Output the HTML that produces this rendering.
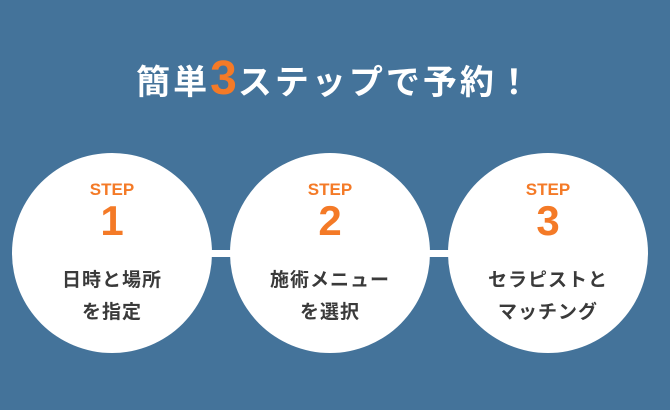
<!DOCTYPE html>
<html><head><meta charset="utf-8"><style>
body{margin:0;width:670px;height:410px;background:#44739a;position:relative;overflow:hidden;font-family:"Liberation Sans","Noto Sans CJK JP",sans-serif}
.t{position:absolute;left:0;width:670px;top:52px;text-align:center;color:#fff;font-size:34px;font-weight:bold;letter-spacing:3px;line-height:54px}
.t b{color:#f47a27;font-size:48px;font-family:"Liberation Sans",sans-serif;letter-spacing:1px}
.bar{position:absolute;top:250px;left:200px;width:260px;height:7px;background:#fff}
.c{position:absolute;top:153px;width:200px;height:200px;border-radius:50%;background:#fff;text-align:center}
.s{position:absolute;top:27px;width:100%;color:#f47a27;font-weight:bold;font-size:17px}
.n{position:absolute;top:42px;width:100%;color:#f47a27;font-weight:bold;font-size:42px;line-height:52px}
.l{position:absolute;top:112px;width:100%;color:#3a3a3a;font-weight:bold;font-size:19px;line-height:32px;letter-spacing:1px}
</style></head><body>
<div class="t">簡単<b>3</b>ステップで予約！</div>
<div class="bar"></div>
<div class="c" style="left:12px"><div class="s">STEP</div><div class="n">1</div><div class="l">日時と場所<br>を指定</div></div>
<div class="c" style="left:230px"><div class="s">STEP</div><div class="n">2</div><div class="l">施術メニュー<br>を選択</div></div>
<div class="c" style="left:448px"><div class="s">STEP</div><div class="n">3</div><div class="l">セラピストと<br>マッチング</div></div>
</body></html>
